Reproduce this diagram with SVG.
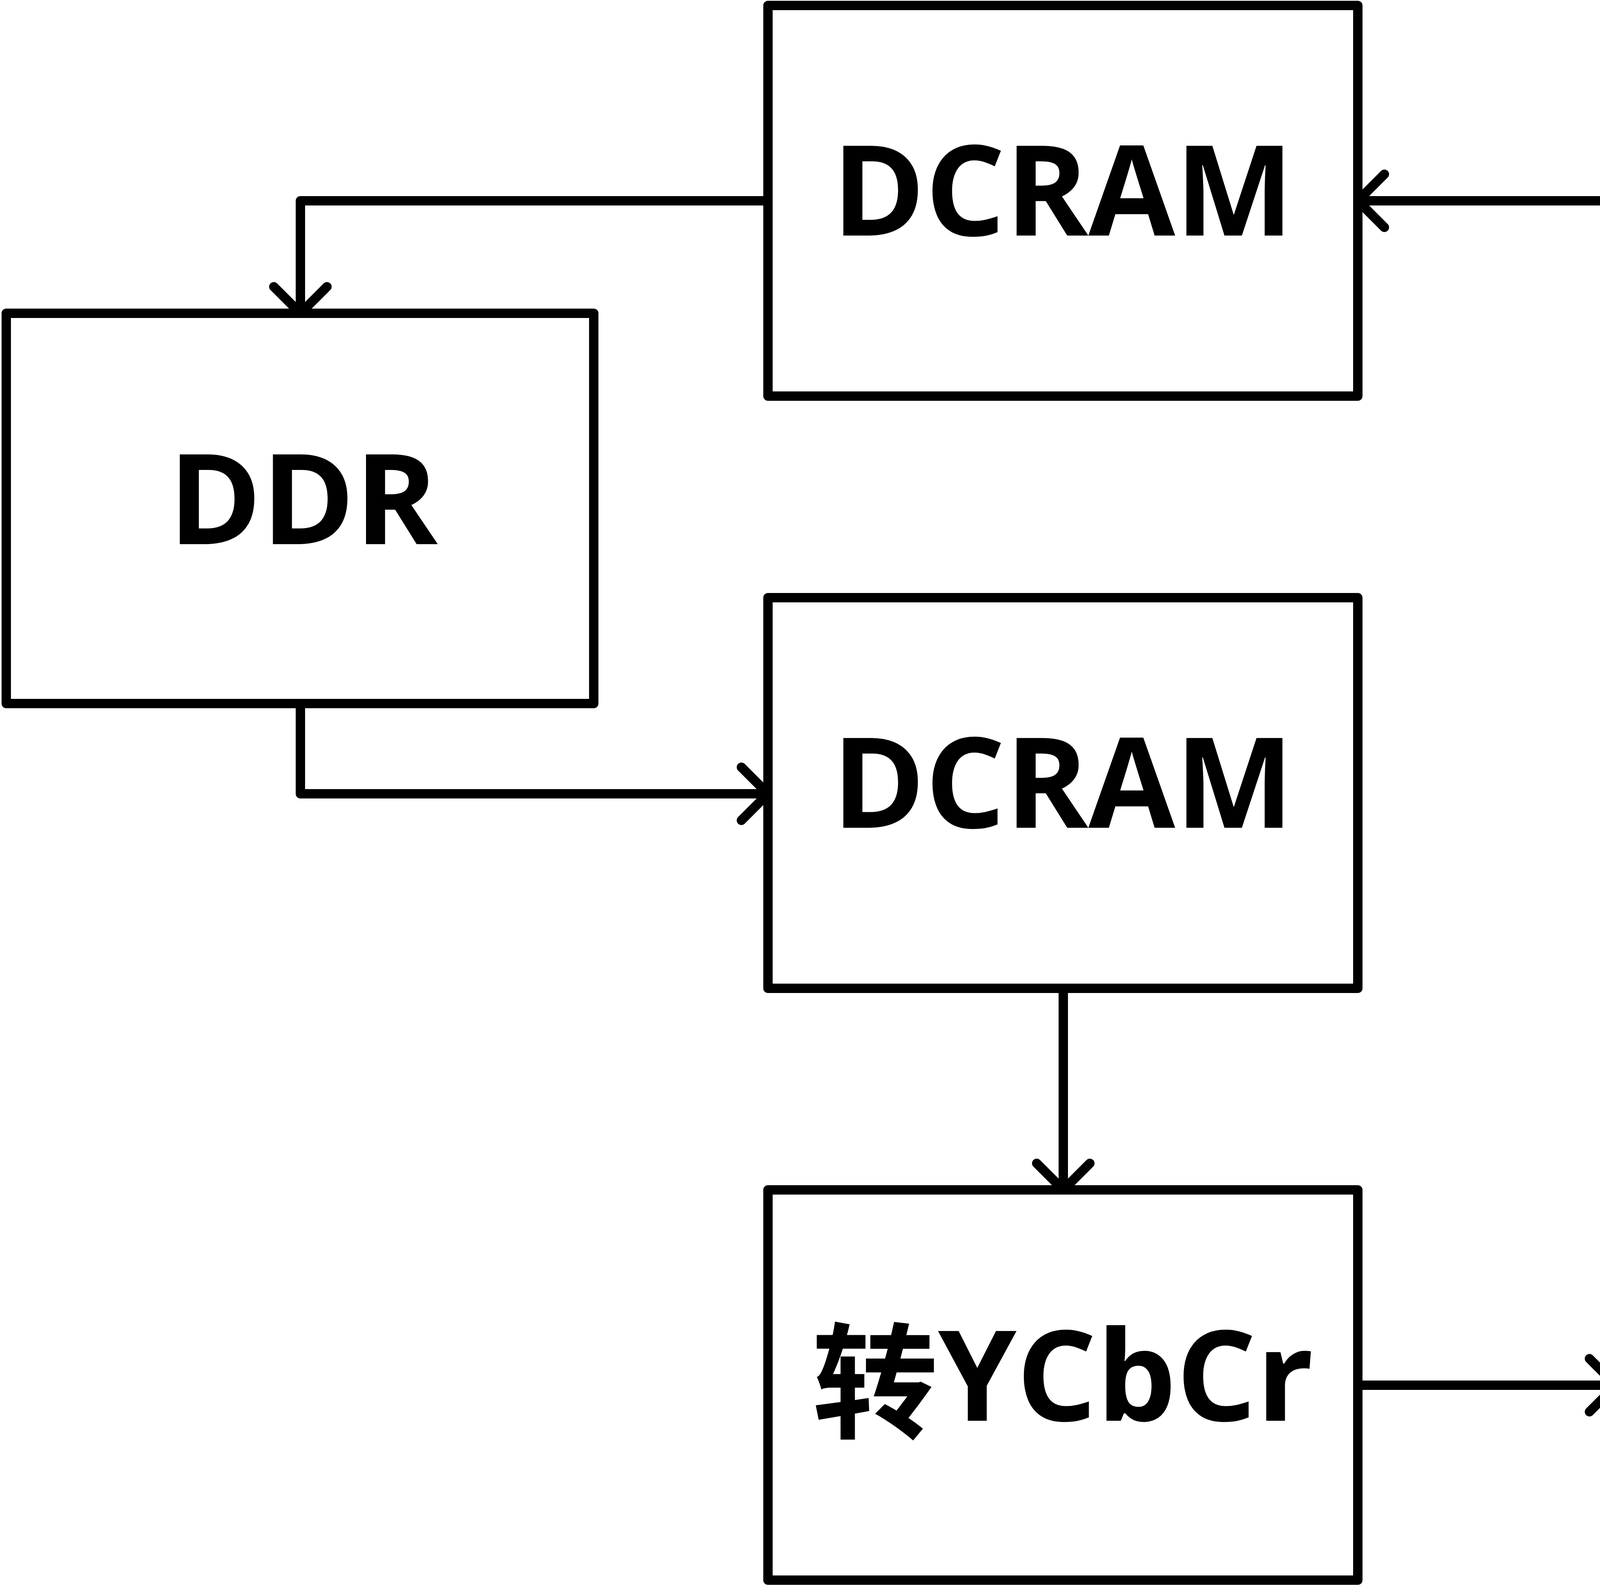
<svg xmlns="http://www.w3.org/2000/svg" width="7850" height="4060" viewBox="0 0 7850 4060">
<style>
.box{fill:#fff;stroke:#000;stroke-width:24;stroke-linejoin:round}
.blue{fill:#B8DDE7}
.lat{font-family:"Open Sans","Noto Sans CJK SC",sans-serif;font-weight:700;font-size:322px;fill:#000;text-anchor:middle}
.cjk{font-family:"Noto Sans CJK SC","Open Sans",sans-serif;font-weight:900;font-size:300px;fill:#000;text-anchor:middle}
.ari{font-family:"Liberation Sans",Arial,sans-serif;font-weight:700;font-size:340px;fill:#000;text-anchor:middle}
.con{fill:none;stroke:#000;stroke-width:24;stroke-linejoin:round;marker-end:url(#arr)}
</style>
<defs>
<marker id="arr" markerUnits="userSpaceOnUse" viewBox="-100 -100 120 200" refX="0" refY="0" markerWidth="120" markerHeight="200" orient="auto" overflow="visible">
<path d="M-68,-68 L0,0 L-68,68" fill="none" stroke="#000" stroke-width="24" stroke-linecap="round" stroke-linejoin="round"/>
</marker>
</defs>
<rect x="0" y="0" width="7850" height="4060" fill="#fff"/>
<g id="connectors">
<path class="con" d="M6414,514 H5645"/>
<path class="con" d="M4137,514 H3476"/>
<path class="con" d="M1966,514 H769 V802"/>
<path class="con" d="M769,1801 V2032 H1966"/>
<path class="con" d="M2722,2530 V3046"/>
<path class="con" d="M3476,3546 H4137"/>
<path class="con" d="M4891,3046 V2530"/>
<path class="con" d="M5645,2036 H6414"/>
<path class="con" d="M6234,2036 V3550 H6414"/>
</g>
<g id="dcram1">
<rect class="box" x="1966" y="14" width="1510" height="1000"/>
<text class="lat" x="2721" y="603">DCRAM</text>
</g>
<g id="vga">
<rect class="box" x="4137" y="14" width="1508" height="1000"/>
<text class="lat" x="4891" y="603">VGA<tspan dy="20">时序</tspan></text>
</g>
<g id="ov7725">
<rect class="box blue" x="6414" y="14" width="1369" height="1000"/>
<text class="lat" x="7098" y="603">OV7725</text>
</g>
<g id="ddr">
<rect class="box" x="16" y="802" width="1504" height="999"/>
<text class="lat" x="776" y="1393">DDR</text>
</g>
<g id="dcram2">
<rect class="box" x="1966" y="1530" width="1510" height="1000"/>
<text class="lat" x="2721" y="2119">DCRAM</text>
</g>
<g id="maokuang">
<rect class="box" x="4137" y="1530" width="1508" height="1000"/>
<text class="cjk" x="4891" y="2129">锚框</text>
</g>
<g id="hdmi">
<rect class="box blue" x="6414" y="1530" width="1369" height="1000"/>
<text class="ari" x="7098" y="2119">HDMI</text>
</g>
<g id="ycbcr">
<rect class="box" x="1966" y="3046" width="1510" height="999"/>
<text class="lat" x="2721" y="3637"><tspan dy="20">转</tspan><tspan dy="-20">YCbCr</tspan></text>
</g>
<g id="binary">
<rect class="box" x="4137" y="3046" width="1508" height="999"/>
<text class="cjk" x="4891" y="3464">二值化</text>
<text class="cjk" x="4891" y="3845">腐蚀 膨胀</text>
</g>
<g id="arm">
<rect class="box blue" x="6414" y="3046" width="1369" height="999"/>
<text class="cjk" x="7098" y="3660">机械臂</text>
</g>
</svg>
